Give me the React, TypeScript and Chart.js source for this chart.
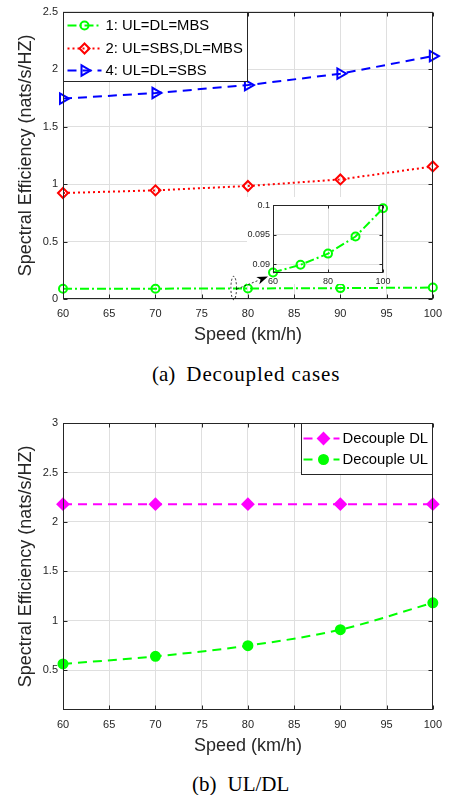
import React, { useEffect, useRef } from 'react';
import { Chart, registerables } from 'chart.js';
Chart.register(...registerables);

// ---------- data ----------
const speeds = [60, 70, 80, 90, 100];
const xTicks = [60, 65, 70, 75, 80, 85, 90, 95, 100];
const topYTicks = [0, 0.5, 1, 1.5, 2, 2.5];
const bottomYTicks = [0.5, 1, 1.5, 2, 2.5, 3];
const insetXTicks = [60, 80, 100];
const insetYTicks = [0.09, 0.095, 0.1];

const case1 = [0.0886, 0.0899, 0.0918, 0.0947, 0.0995]; // 1: UL=DL=MBS
const case2 = [0.922, 0.945, 0.983, 1.04, 1.153]; // 2: UL=SBS,DL=MBS
const case4 = [1.743, 1.792, 1.861, 1.96, 2.113]; // 4: UL=DL=SBS
const decoupleDL = [2.18, 2.18, 2.18, 2.18, 2.18];
const decoupleUL = [0.565, 0.642, 0.75, 0.912, 1.183];

const topLabels = ['1: UL=DL=MBS', '2: UL=SBS,DL=MBS', '4: UL=DL=SBS'];
const bottomLabels = ['Decouple DL', 'Decouple UL'];
const xTitle = 'Speed (km/h)';
const yTitle = 'Spectral Efficiency (nats/s/HZ)';
const captionA = ['(a)', 'Decoupled cases'];
const captionB = ['(b)', 'UL/DL'];

// ---------- styles ----------
const FONT = "'Liberation Sans', Arial, Helvetica, sans-serif";
const SERIF = "'Liberation Serif', 'Times New Roman', serif";
const AX = '#262626';
const GRID = '#dfdfdf';

type Sty = { color: string; dash: number[]; marker: string; radius: number; filled: boolean };
const sty1: Sty = { color: '#00ff00', dash: [9, 3, 2, 3], marker: 'circle', radius: 4, filled: false };
const sty2: Sty = { color: '#ff0000', dash: [2, 3], marker: 'diamond', radius: 5, filled: false };
const sty4: Sty = { color: '#0000ff', dash: [9, 6], marker: 'triRight', radius: 6, filled: false };
const styDL: Sty = { color: '#ff00ff', dash: [9, 6], marker: 'diamond', radius: 5.5, filled: true };
const styUL: Sty = { color: '#00ff00', dash: [9, 6], marker: 'circle', radius: 4.5, filled: true };

function dataset(label: string, values: number[], s: Sty, extra: any = {}) {
  const ps = s.marker === 'circle' ? 'circle' : s.marker === 'diamond' ? 'rectRot' : 'triangle';
  return {
    label,
    data: speeds.map((x, i) => ({ x, y: values[i] })),
    borderColor: s.color,
    backgroundColor: s.filled ? s.color : 'rgba(0,0,0,0)',
    borderWidth: 2,
    borderDash: s.dash,
    pointStyle: ps,
    pointRotation: s.marker === 'triRight' ? 90 : 0,
    pointRadius: s.radius,
    pointBorderWidth: 2,
    pointBorderColor: s.color,
    pointBackgroundColor: s.filled ? s.color : 'rgba(0,0,0,0)',
    clip: false,
    tension: 0,
    ...extra,
  };
}

function drawMarker(ctx: CanvasRenderingContext2D, s: Sty, x: number, y: number) {
  const r = s.radius;
  ctx.save();
  ctx.setLineDash([]);
  ctx.beginPath();
  if (s.marker === 'circle') ctx.arc(x, y, r, 0, Math.PI * 2);
  else if (s.marker === 'diamond') {
    ctx.moveTo(x, y - r); ctx.lineTo(x + r, y); ctx.lineTo(x, y + r); ctx.lineTo(x - r, y); ctx.closePath();
  } else {
    ctx.moveTo(x + r, y); ctx.lineTo(x - r / 2, y - r * 0.866); ctx.lineTo(x - r / 2, y + r * 0.866); ctx.closePath();
  }
  ctx.lineWidth = 2;
  ctx.strokeStyle = s.color;
  if (s.filled) { ctx.fillStyle = s.color; ctx.fill(); }
  ctx.stroke();
  ctx.restore();
}

const boxPlugin = (tl: number) => ({
  id: 'box',
  afterDatasetsDraw(chart: any) {
    const { ctx, chartArea: a, scales } = chart;
    ctx.save();
    ctx.strokeStyle = AX;
    ctx.lineWidth = 1;
    ctx.setLineDash([]);
    const L = Math.round(a.left) + 0.5, R = Math.round(a.right) - 0.5;
    const T = Math.round(a.top) + 0.5, B = Math.round(a.bottom) - 0.5;
    ctx.strokeRect(L, T, R - L, B - T);
    ctx.beginPath();
    scales.x.ticks.forEach((t: any) => {
      const px = Math.round(scales.x.getPixelForValue(t.value)) + 0.5;
      ctx.moveTo(px, B); ctx.lineTo(px, B - tl);
      ctx.moveTo(px, T); ctx.lineTo(px, T + tl);
    });
    scales.y.ticks.forEach((t: any) => {
      const py = Math.round(scales.y.getPixelForValue(t.value)) + 0.5;
      ctx.moveTo(L, py); ctx.lineTo(L + tl, py);
      ctx.moveTo(R, py); ctx.lineTo(R - tl, py);
    });
    ctx.stroke();
    ctx.restore();
  },
});

type LegendCfg = {
  items: { label: string; sty: Sty }[];
  anchor: 'left' | 'right';
  w: number; h: number; rows: number[];
  lineX: [number, number]; markX: number; textX: number;
};

const legendPlugin = (cfg: LegendCfg) => ({
  id: 'customLegend',
  afterDraw(chart: any) {
    const { ctx, chartArea: a } = chart;
    const left = cfg.anchor === 'left' ? Math.round(a.left) + 0.5 : Math.round(a.right) - 0.5 - cfg.w;
    const top = Math.round(a.top) + 0.5;
    ctx.save();
    ctx.fillStyle = '#ffffff';
    ctx.fillRect(left, top, cfg.w, cfg.h);
    ctx.strokeStyle = AX;
    ctx.lineWidth = 1;
    ctx.setLineDash([]);
    ctx.strokeRect(left, top, cfg.w, cfg.h);
    cfg.items.forEach((it, i) => {
      const y = top + cfg.rows[i];
      ctx.beginPath();
      ctx.setLineDash(it.sty.dash);
      ctx.strokeStyle = it.sty.color;
      ctx.lineWidth = 2;
      ctx.moveTo(left + cfg.lineX[0], y);
      ctx.lineTo(left + cfg.lineX[1], y);
      ctx.stroke();
      drawMarker(ctx, it.sty, left + cfg.markX, y);
      ctx.setLineDash([]);
      ctx.fillStyle = '#000000';
      ctx.font = `14.8px ${FONT}`;
      ctx.textAlign = 'left';
      ctx.textBaseline = 'middle';
      ctx.fillText(it.label, left + cfg.textX, y + 0.5);
    });
    ctx.restore();
  },
});

function mainOptions(yMin: number, yMax: number, yTicks: number[], padTop: number) {
  return {
    animation: false,
    responsive: false,
    maintainAspectRatio: false,
    events: [],
    layout: { padding: { top: padTop, right: 11, left: 0, bottom: 0 } },
    plugins: { legend: { display: false }, tooltip: { enabled: false } },
    scales: {
      x: {
        type: 'linear', min: 60, max: 100,
        afterBuildTicks: (s: any) => { s.ticks = xTicks.map((v) => ({ value: v })); },
        afterFit: (s: any) => { s.height = 51; },
        grid: { color: GRID, drawTicks: false, lineWidth: 1 },
        border: { display: false },
        ticks: { padding: 8, color: AX, font: { family: FONT, size: 11 }, maxRotation: 0, autoSkip: false, callback: (v: any) => String(v) },
        title: { display: true, text: xTitle, color: AX, font: { family: FONT, size: 18 }, padding: { top: 0, bottom: 4 } },
      },
      y: {
        type: 'linear', min: yMin, max: yMax,
        afterBuildTicks: (s: any) => { s.ticks = yTicks.map((v) => ({ value: v })); },
        afterFit: (s: any) => { s.width = 63; },
        grid: { color: GRID, drawTicks: false, lineWidth: 1 },
        border: { display: false },
        ticks: { padding: 5, color: AX, font: { family: FONT, size: 11 }, autoSkip: false, callback: (v: any) => String(v) },
        title: { display: true, text: yTitle, color: AX, font: { family: FONT, size: 18 }, padding: { top: 15, bottom: 0 } },
      },
    },
  };
}

function topConfig(): any {
  return {
    type: 'line',
    data: {
      datasets: [
        dataset(topLabels[0], case1, sty1),
        dataset(topLabels[1], case2, sty2),
        dataset(topLabels[2], case4, sty4),
      ],
    },
    options: mainOptions(0, 2.5, topYTicks, 11),
    plugins: [
      boxPlugin(4),
      legendPlugin({
        items: [{ label: topLabels[0], sty: sty1 }, { label: topLabels[1], sty: sty2 }, { label: topLabels[2], sty: sty4 }],
        anchor: 'left', w: 184, h: 69, rows: [13, 36, 58], lineX: [4, 38], markX: 21, textX: 42,
      }),
    ],
  };
}

function bottomConfig(): any {
  return {
    type: 'line',
    data: {
      datasets: [
        dataset(bottomLabels[0], decoupleDL, styDL),
        dataset(bottomLabels[1], decoupleUL, styUL, { cubicInterpolationMode: 'monotone' }),
      ],
    },
    options: mainOptions(0.1, 3, bottomYTicks, 23),
    plugins: [
      boxPlugin(4),
      legendPlugin({
        items: [{ label: bottomLabels[0], sty: styDL }, { label: bottomLabels[1], sty: styUL }],
        anchor: 'right', w: 131, h: 51, rows: [15, 36], lineX: [2, 38], markX: 22, textX: 41,
      }),
    ],
  };
}

const insetDecor = {
  id: 'insetDecor',
  beforeDraw(chart: any) {
    const { ctx, chartArea: a } = chart;
    ctx.save();
    ctx.fillStyle = '#ffffff';
    ctx.fillRect(a.left - 26, 0, a.right - a.left + 27, a.bottom + 11);
    ctx.restore();
  },
  afterDraw(chart: any) {
    const { ctx, chartArea: a } = chart;
    ctx.save();
    // dashed ellipse marking the zoomed region
    ctx.strokeStyle = '#000000';
    ctx.lineWidth = 0.8;
    ctx.setLineDash([2, 2]);
    ctx.beginPath();
    ctx.ellipse(a.left - 39.3, a.bottom + 15, 2.8, 11.7, 0, 0, Math.PI * 2);
    ctx.stroke();
    // arrow
    const x0 = a.left - 36, y0 = a.bottom + 16;
    const x1 = a.left - 5, y1 = a.bottom + 3.5;
    const ang = Math.atan2(y1 - y0, x1 - x0);
    const len = 11, hw = 4;
    const bx = x1 - Math.cos(ang) * len, by = y1 - Math.sin(ang) * len;
    ctx.beginPath();
    ctx.moveTo(x0, y0);
    ctx.lineTo(bx, by);
    ctx.stroke();
    ctx.setLineDash([]);
    ctx.fillStyle = '#000000';
    ctx.beginPath();
    ctx.moveTo(x1, y1);
    ctx.lineTo(bx - Math.sin(ang) * hw, by + Math.cos(ang) * hw);
    ctx.lineTo(bx + Math.cos(ang) * 3, by + Math.sin(ang) * 3);
    ctx.lineTo(bx + Math.sin(ang) * hw, by - Math.cos(ang) * hw);
    ctx.closePath();
    ctx.fill();
    ctx.restore();
  },
};

function insetConfig(): any {
  return {
    type: 'line',
    data: { datasets: [dataset(topLabels[0], case1, sty1)] },
    options: {
      animation: false,
      responsive: false,
      maintainAspectRatio: false,
      events: [],
      layout: { padding: { top: 6, right: 12, left: 0, bottom: 0 } },
      plugins: { legend: { display: false }, tooltip: { enabled: false } },
      scales: {
        x: {
          type: 'linear', min: 60, max: 100,
          afterBuildTicks: (s: any) => { s.ticks = insetXTicks.map((v) => ({ value: v })); },
          afterFit: (s: any) => { s.height = 29; },
          grid: { color: GRID, drawTicks: false },
          border: { display: false },
          ticks: { padding: 3, color: AX, font: { family: FONT, size: 9 }, maxRotation: 0, autoSkip: false, callback: (v: any) => String(v) },
        },
        y: {
          type: 'linear', min: 0.0885, max: 0.1,
          afterBuildTicks: (s: any) => { s.ticks = insetYTicks.map((v) => ({ value: v })); },
          afterFit: (s: any) => { s.width = 48; },
          grid: { color: GRID, drawTicks: false },
          border: { display: false },
          ticks: { padding: 3, color: AX, font: { family: FONT, size: 9 }, autoSkip: false, callback: (v: any) => String(v) },
        },
      },
    },
    plugins: [insetDecor, boxPlugin(3)],
  };
}

function ChartCanvas({ left, top, width, height, make, z }: any) {
  const ref = useRef<HTMLCanvasElement>(null);
  useEffect(() => {
    const c = new Chart(ref.current as HTMLCanvasElement, make());
    return () => c.destroy();
  }, []);
  return (
    <canvas
      ref={ref}
      width={width}
      height={height}
      style={{ position: 'absolute', left, top, width, height, zIndex: z || 0 }}
    />
  );
}

function Caption({ parts, left, top, spacing }: any) {
  return (
    <div style={{ position: 'absolute', left, top, fontFamily: SERIF, fontSize: 21, lineHeight: '24px', color: '#000', whiteSpace: 'nowrap' }}>
      <span>{parts[0]}</span>
      <span style={{ marginLeft: 11, letterSpacing: spacing || 0 }}>{parts[1]}</span>
    </div>
  );
}

export default function App() {
  return (
    <div style={{ position: 'absolute', left: 0, top: 0, width: 450, height: 795, background: '#ffffff', overflow: 'hidden' }}>
      <ChartCanvas left={0} top={0} width={450} height={350} make={topConfig} z={1} />
      <ChartCanvas left={225} top={197} width={170} height={105} make={insetConfig} z={2} />
      <Caption parts={captionA} left={152} top={362} spacing={0.9} />
      <ChartCanvas left={0} top={400} width={450} height={361} make={bottomConfig} z={1} />
      <Caption parts={captionB} left={192} top={772} />
    </div>
  );
}
